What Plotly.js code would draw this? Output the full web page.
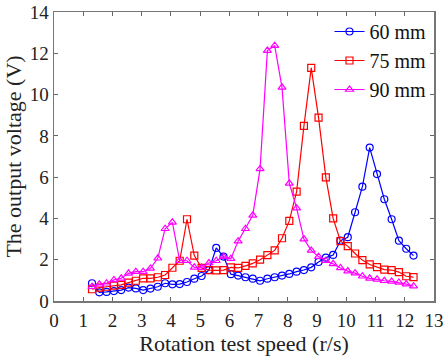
<!DOCTYPE html>
<html>
<head>
<meta charset="utf-8">
<script src="https://cdn.plot.ly/plotly-3.0.1.min.js"></script>
<style>html,body{margin:0;padding:0;background:#fff;}#chart{width:444px;height:357px;}</style>
</head>
<body>
<div id="chart"></div>
<script>
const speed = [1.3,1.55,1.8,2.05,2.3,2.55,2.8,3.05,3.3,3.55,3.8,4.05,4.3,4.55,4.8,5.05,5.3,5.55,5.8,6.05,6.3,6.55,6.8,7.05,7.3,7.55,7.8,8.05,8.3,8.55,8.8,9.05,9.3,9.55,9.8,10.05,10.3,10.55,10.8,11.05,11.3,11.55,11.8,12.05,12.3];
const v60 = [0.86,0.42,0.44,0.48,0.53,0.65,0.61,0.53,0.6,0.69,0.86,0.81,0.82,0.92,1.08,1.21,1.5,2.57,2.15,1.3,1.23,1.15,1.08,0.98,1.08,1.15,1.23,1.31,1.42,1.5,1.63,1.89,2.1,2.23,2.92,3.09,4.3,5.54,7.43,6.15,4.93,3.96,2.92,2.53,2.2];
const v75 = [0.57,0.65,0.69,0.74,0.78,0.89,0.98,1.1,1.1,1.15,1.26,1.61,1.95,3.96,2.2,1.6,1.5,1.48,1.5,1.63,1.6,1.7,1.82,2.0,2.22,2.45,3.04,3.88,5.3,8.48,11.29,8.88,5.99,4.0,2.9,2.66,2.3,1.98,1.77,1.64,1.52,1.5,1.4,1.2,1.16];
const v90 = [0.69,0.81,0.86,1.02,1.1,1.34,1.42,1.42,1.58,2.07,3.5,3.81,1.95,1.95,1.63,1.62,1.84,1.95,2.15,2.05,2.9,3.5,4.15,6.4,12.13,12.37,10.35,5.7,4.5,3.0,2.45,2.15,1.95,1.8,1.6,1.45,1.35,1.2,1.1,1.05,0.98,0.95,0.9,0.82,0.72];
const names = ['60 mm','75 mm','90 mm'];
const colors = ['#0000ff','#ff0000','#ff00ff'];
const symbols = ['circle-open','square-open','triangle-up-open'];
const series = [v60, v75, v90];
const xTicks = [0,1,2,3,4,5,6,7,8,9,10,11,12,13];
const yTicks = [0,2,4,6,8,10,12,14];

const traces = series.map((ys, k) => ({
  x: speed, y: ys, name: names[k], type: 'scatter', mode: 'lines+markers',
  line: {color: colors[k], width: 1.2},
  marker: {symbol: symbols[k], size: 7, color: colors[k], line: {width: 1.2, color: colors[k]}}
}));

const font = 'Liberation Serif, Times New Roman, serif';
const layout = {
  width: 444, height: 357,
  margin: {l: 54, r: 10, t: 12, b: 56},
  paper_bgcolor: '#fff', plot_bgcolor: '#fff',
  font: {family: font, size: 19, color: '#222'},
  showlegend: true,
  legend: {x: 0.725, y: 1.0, xanchor: 'left', yanchor: 'top', bgcolor: 'rgba(0,0,0,0)', borderwidth: 0,
           font: {family: font, size: 20, color: '#111'}, tracegroupgap: 0, itemwidth: 30},
  xaxis: {range: [0, 13], tickvals: xTicks, ticktext: xTicks.map(String), ticks: 'inside', ticklen: 4,
          tickcolor: '#666', showline: true, linecolor: '#777', linewidth: 1.5, mirror: 'ticks', showgrid: false, zeroline: false,
          tickfont: {family: font, size: 19, color: '#222'}, ticklabelstandoff: 2,
          title: {text: 'Rotation test speed (r/s)', font: {family: font, size: 22, color: '#222'}, standoff: 4}},
  yaxis: {range: [0, 14], tickvals: yTicks, ticktext: yTicks.map(String), ticks: 'inside', ticklen: 4,
          tickcolor: '#666', showline: true, linecolor: '#777', linewidth: 1.5, mirror: 'ticks', showgrid: false, zeroline: false,
          tickfont: {family: font, size: 19, color: '#222'},
          title: {text: 'The output voltage (V)', font: {family: font, size: 22, color: '#222'}, standoff: 2}}
};
Plotly.newPlot('chart', traces, layout, {displayModeBar: false, staticPlot: true});
</script>
</body>
</html>
